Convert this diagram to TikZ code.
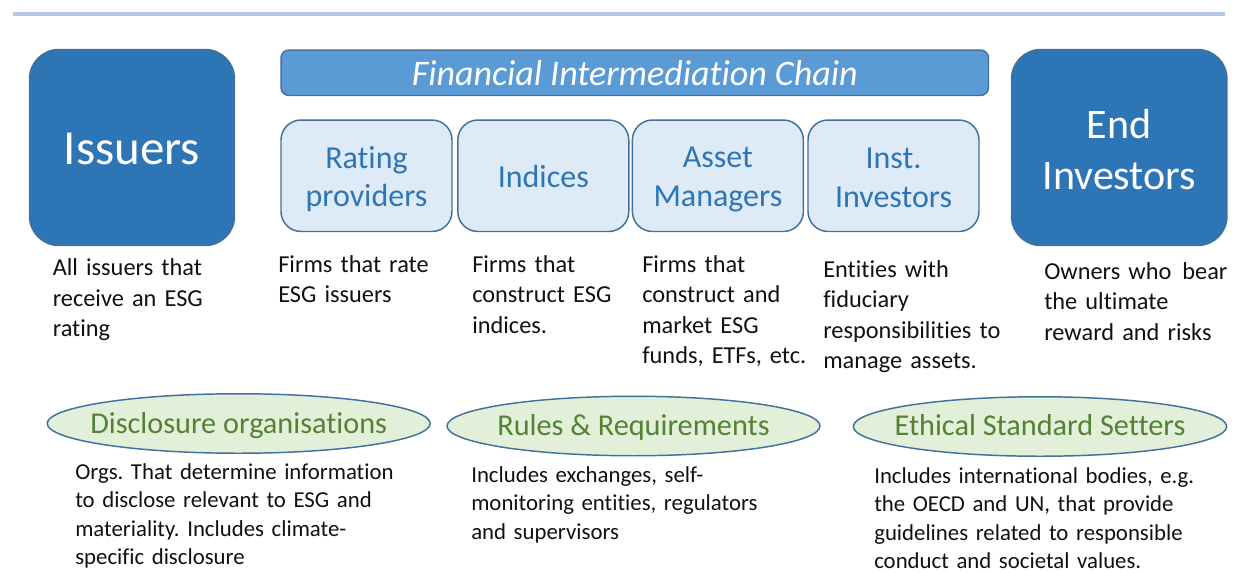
\documentclass[tikz,border=0pt]{standalone}
\usepackage{fontspec}
\setmainfont{Carlito}[Ligatures=NoCommon]
\usetikzlibrary{shapes.geometric}
\definecolor{darkblue}{HTML}{2E75B6}
\definecolor{edgeblue}{HTML}{41719C}
\definecolor{chainblue}{HTML}{5B9BD5}
\definecolor{paleblue}{HTML}{DEEBF7}
\definecolor{linepale}{HTML}{B4C7E7}
\definecolor{palegreen}{HTML}{E2F0D9}
\definecolor{textgreen}{HTML}{548235}
\definecolor{desctext}{HTML}{111111}
\tikzset{
  bigbox/.style={draw=edgeblue, line width=1.1pt, fill=darkblue,
    rounded corners=22pt, inner sep=0pt, minimum height=147pt},
  bigtext/.style={text=white, align=center, inner sep=0pt},
  chainbar/.style={draw=edgeblue, line width=1.1pt, fill=chainblue, text=white,
    rounded corners=6pt, inner sep=0pt, minimum width=530.6pt, minimum height=34.1pt,
    font=\fontsize{27pt}{32pt}\selectfont\itshape},
  rolebox/.style={draw=edgeblue, line width=1.1pt, fill=paleblue,
    rounded corners=15pt, inner sep=0pt,
    minimum width=128.25pt, minimum height=83.6pt},
  roletext/.style={text=darkblue, align=center, inner sep=0pt,
    font=\fontsize{24pt}{29pt}\selectfont},
  oval/.style={ellipse, draw=edgeblue, line width=1.1pt, fill=palegreen,
    inner sep=0pt, minimum height=44.6pt},
  ovaltext/.style={anchor=base, text=textgreen, inner sep=0pt, font=\fontsize{22.7pt}{27pt}\selectfont},
  desc/.style={anchor=base west, inner sep=0pt, text=desctext, align=left,
    text width=136pt, font=\fontsize{18.26pt}{22.9pt}\selectfont\frenchspacing},
  descb/.style={anchor=base west, inner sep=0pt, text=desctext, align=left,
    text width=262pt, font=\fontsize{17.1pt}{21.2pt}\selectfont\frenchspacing},
}
\begin{document}
\begin{tikzpicture}[x=0.75pt,y=-0.75pt]
\useasboundingbox (0,0) rectangle (1233,572);
\fill[white] (0,0) rectangle (1233,572);
\draw[linepale, line width=3pt] (13,14) -- (1225,14);

% big boxes
\node[bigbox, minimum width=153.75pt] (iss) at (132,147.5) {};
\node[bigtext, font=\fontsize{36.75pt}{44pt}\selectfont] (isst) at ([yshift=-0.8pt]iss.center) {Issuers};
\node[bigbox, minimum width=161.6pt] (end) at (1119.25,147.5) {};
\node[bigtext, font=\fontsize{31.5pt}{38.5pt}\selectfont] (endt) at ([yshift=-1.5pt]end.center) {End\\Investors};

% chain
\node[chainbar] (chain) at (634.75,72.75) {Financial Intermediation Chain};
\node[rolebox] (rat) at (366.5,175.75) {};
\node[roletext] (ratt) at ([yshift=-2.6pt]rat.center) {Rating\\providers};
\node[rolebox] (ind) at (543.3,175.75) {};
\node[roletext] (indt) at ([yshift=-0.5pt]ind.center) {Indices};
\node[rolebox] (ass) at (717.9,175.75) {};
\node[roletext] (asst) at ([yshift=-2.6pt]ass.center) {Asset\\Managers};
\node[rolebox] (ins) at (893.5,175.75) {};
\node[roletext] (inst) at ([yshift=-1.5pt]ins.center) {Inst.\\Investors};

% descriptions
\node[desc] (issd) at (52.5,275.5) {All issuers that\\receive an ESG\\rating};
\node[desc] (ratd) at (278,272) {Firms that rate\\ESG issuers};
\node[desc] (indd) at (472,272) {Firms that\\construct ESG\\indices.};
\node[desc] (assd) at (642,272) {Firms that\\construct and\\market ESG\\funds, ETFs, etc.};
\node[desc] (insd) at (823,277) {Entities with\\fiduciary\\responsibilities to\\manage assets.};
\node[desc, text width=140pt] (endd) at (1044,279) {Owners who\hspace{0.45em}bear\\the ultimate\\reward and risks};

% ovals
\node[oval, minimum width=287.25pt] (dis) at (238.7,423.5) {};
\node[ovaltext] (dist) at ([yshift=-7.5pt]dis.center) {Disclosure organisations};
\node[oval, minimum width=279.75pt] (rul) at (633.5,426) {};
\node[ovaltext] (rult) at ([yshift=-7.1pt]rul.center) {Rules \& Requirements};
\node[oval, minimum width=280pt] (eth) at (1040,426.5) {};
\node[ovaltext] (etht) at ([yshift=-6.6pt]eth.center) {Ethical Standard Setters};

\node[descb] (disd) at (75,479.5) {Orgs. That determine information\\to disclose relevant to ESG and\\materiality. Includes climate-\\specific disclosure};
\node[descb] (rund) at (471,482.5) {Includes exchanges, self-\\monitoring entities, regulators\\and supervisors};
\node[descb] (ethd) at (874,483.5) {Includes international bodies, e.g.\\the OECD and UN, that provide\\guidelines related to responsible\\conduct and societal values.};
\end{tikzpicture}
\end{document}
